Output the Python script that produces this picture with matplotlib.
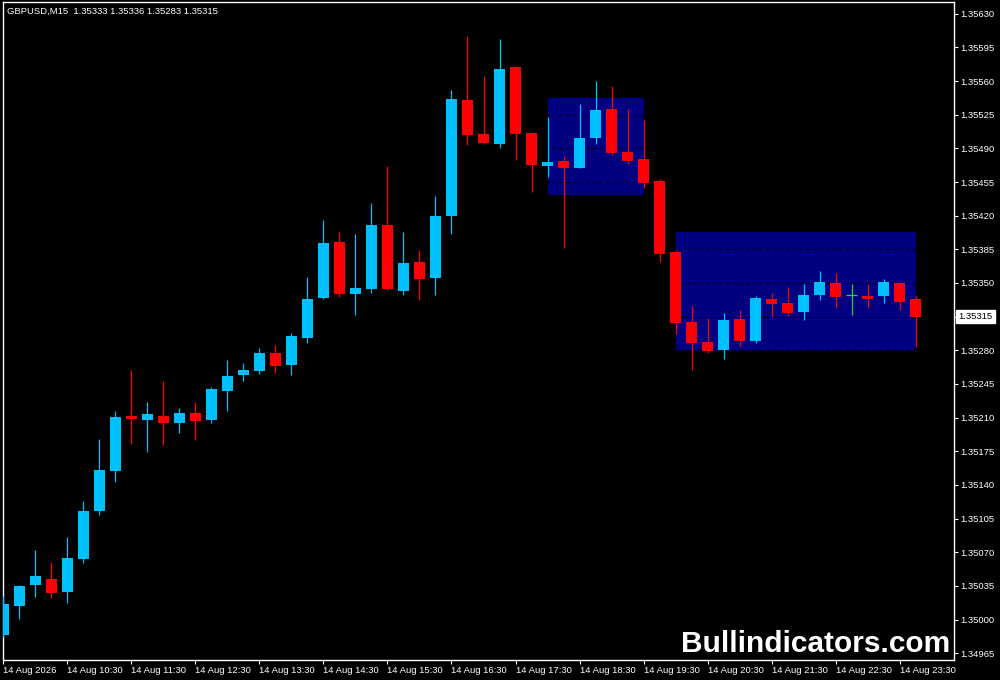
import numpy as np
import matplotlib
matplotlib.use("Agg")
import matplotlib.pyplot as plt
from matplotlib.patches import Rectangle

plt.rcParams['font.family'] = ['Liberation Sans', 'DejaVu Sans']

# GBPUSD M15, 14 Aug 09:30 -> 23:45
opens = [1.34984, 1.35014, 1.35036, 1.35042, 1.35029, 1.35063, 1.35113, 1.35154, 1.35212, 1.35208,
         1.35212, 1.35204, 1.35215, 1.35208, 1.35238, 1.35254, 1.35258, 1.35277, 1.35265, 1.35293,
         1.35334, 1.35393, 1.35339, 1.35344, 1.35410, 1.35342, 1.35372, 1.35355, 1.35420, 1.35540,
         1.35505, 1.35495, 1.35575, 1.35506, 1.35472, 1.35477, 1.35470, 1.35501, 1.35531, 1.35486,
         1.35479, 1.35456, 1.35382, 1.35309, 1.35289, 1.35280, 1.35313, 1.35290, 1.35333, 1.35329,
         1.35320, 1.35337, 1.35350, 1.35337, 1.35336, 1.35336, 1.35350, 1.35333]
highs = [1.35025, 1.35036, 1.35072, 1.35060, 1.35086, 1.35123, 1.35188, 1.35217, 1.35260, 1.35226,
         1.35248, 1.35220, 1.35226, 1.35242, 1.35270, 1.35267, 1.35282, 1.35286, 1.35298, 1.35356,
         1.35416, 1.35403, 1.35401, 1.35433, 1.35472, 1.35403, 1.35384, 1.35440, 1.35551, 1.35607,
         1.35565, 1.35604, 1.35576, 1.35506, 1.35523, 1.35482, 1.35536, 1.35560, 1.35555, 1.35531,
         1.35519, 1.35458, 1.35384, 1.35326, 1.35314, 1.35319, 1.35322, 1.35336, 1.35340, 1.35346,
         1.35349, 1.35362, 1.35360, 1.35349, 1.35349, 1.35354, 1.35351, 1.35336]
lows = [1.34982, 1.35001, 1.35023, 1.35022, 1.35017, 1.35059, 1.35109, 1.35143, 1.35183, 1.35174,
        1.35182, 1.35194, 1.35187, 1.35204, 1.35217, 1.35248, 1.35255, 1.35256, 1.35254, 1.35288,
        1.35333, 1.35335, 1.35317, 1.35340, 1.35343, 1.35338, 1.35332, 1.35338, 1.35401, 1.35493,
        1.35494, 1.35490, 1.35478, 1.35445, 1.35460, 1.35386, 1.35470, 1.35494, 1.35483, 1.35474,
        1.35449, 1.35372, 1.35297, 1.35259, 1.35277, 1.35271, 1.35284, 1.35288, 1.35315, 1.35316,
        1.35311, 1.35332, 1.35324, 1.35317, 1.35324, 1.35329, 1.35322, 1.35283]
closes = [1.35016, 1.35035, 1.35045, 1.35028, 1.35064, 1.35113, 1.35156, 1.35211, 1.35209, 1.35214,
          1.35204, 1.35215, 1.35206, 1.35240, 1.35253, 1.35259, 1.35277, 1.35264, 1.35295, 1.35333,
          1.35392, 1.35339, 1.35345, 1.35410, 1.35344, 1.35371, 1.35354, 1.35420, 1.35541, 1.35504,
          1.35496, 1.35573, 1.35505, 1.35473, 1.35476, 1.35470, 1.35501, 1.35530, 1.35485, 1.35477,
          1.35454, 1.35380, 1.35308, 1.35288, 1.35279, 1.35312, 1.35290, 1.35334, 1.35328, 1.35319,
          1.35337, 1.35351, 1.35335, 1.35337, 1.35333, 1.35351, 1.35330, 1.35315]

# time axis labels (every 4th bar)
time_labels = ["14 Aug 2026", "14 Aug 10:30", "14 Aug 11:30", "14 Aug 12:30", "14 Aug 13:30",
               "14 Aug 14:30", "14 Aug 15:30", "14 Aug 16:30", "14 Aug 17:30", "14 Aug 18:30",
               "14 Aug 19:30", "14 Aug 20:30", "14 Aug 21:30", "14 Aug 22:30", "14 Aug 23:30"]

# price scale ticks
price_ticks = [1.34965, 1.35000, 1.35035, 1.35070, 1.35105, 1.35140, 1.35175, 1.35210, 1.35245,
               1.35280, 1.35315, 1.35350, 1.35385, 1.35420, 1.35455, 1.35490, 1.35525, 1.35560,
               1.35595, 1.35630]

# consolidation boxes (bar index start/end, price top/bottom)
box_start = [34, 42]
box_end = [40, 57]
box_top = [1.35542, 1.35403]
box_bottom = [1.35442, 1.35279]

symbol = "GBPUSD,M15"

o = np.array(opens)
h = np.array(highs)
l = np.array(lows)
c = np.array(closes)
x = np.arange(len(o))

BLUE = '#00bfff'
RED = '#ff0000'
GREEN = '#32cd32'

fig = plt.figure(figsize=(10, 6.8), dpi=100, facecolor='black')
ax = fig.add_axes([0.003, 20/680, 0.951, 658/680])
ax.set_facecolor('black')

# boxes
for i in range(len(box_start)):
    ax.add_patch(Rectangle((box_start[i], box_bottom[i]), box_end[i]-box_start[i],
                           box_top[i]-box_bottom[i], facecolor='#000080', edgecolor='none', zorder=1))

# grid (black, only shows on the boxes)
ax.hlines(price_ticks, -1, len(o)+3, colors='black', linestyles=(0, (3, 3)), linewidth=0.8, zorder=2)
# bid line
ax.axhline(c[-1], color='black', linewidth=0.8, zorder=2)

# candles
cols = []
for i in range(len(o)):
    if c[i] > o[i]:
        cols.append(BLUE)
    elif c[i] < o[i]:
        cols.append(RED)
    else:
        cols.append(GREEN)

ax.vlines(x, l, h, colors=cols, linewidth=0.9, zorder=3)
body_lo = np.minimum(o, c)
body_h = np.abs(c - o)
ax.bar(x, body_h, bottom=body_lo, width=0.7, color=cols, linewidth=0, zorder=4)
doji = np.where(body_h == 0)[0]
ax.hlines(o[doji], x[doji]-0.35, x[doji]+0.35, colors=GREEN, linewidth=0.9, zorder=4)

ax.set_xlim(-0.031, 59.406)
ax.set_ylim(1.3495796, 1.3564217)

ax.yaxis.tick_right()
ax.set_yticks(price_ticks)
# the label at the bid price is covered by the highlighted price box
ax.set_yticklabels(["" if abs(p - c[-1]) < 1e-7 else "%.5f" % p for p in price_ticks])
ax.set_xticks(x[::4])
ax.set_xticklabels(time_labels)
for lab in ax.get_xticklabels():
    lab.set_horizontalalignment('left')

ax.tick_params(axis='y', colors='white', labelcolor='white', length=3, width=0.8, pad=1.5, labelsize=6.8)
ax.tick_params(axis='x', colors='white', labelcolor='white', length=3, width=0.8, pad=1, labelsize=6.8)
for s in ax.spines.values():
    s.set_color('white')
    s.set_linewidth(1)

# current price label
ax.annotate("%.5f" % c[-1], xy=(1.0, c[-1]), xycoords=('axes fraction', 'data'),
            xytext=(3, 0), textcoords='offset points', ha='left', va='center',
            fontsize=6.8, color='black', zorder=10, annotation_clip=False,
            bbox=dict(boxstyle='square,pad=0.25', facecolor='white', edgecolor='white'))

fig.text(0.007, 1-11/680, "%s  %.5f %.5f %.5f %.5f" % (symbol, o[-1], h[-1], l[-1], c[-1]),
         color='white', fontsize=6.8, va='center', ha='left')
fig.text(0.950, 1-652/680, "Bullindicators.com", color='white', fontsize=21.5,
         fontweight='bold', ha='right', va='baseline')

plt.savefig("out.png", dpi=100, facecolor='black')
